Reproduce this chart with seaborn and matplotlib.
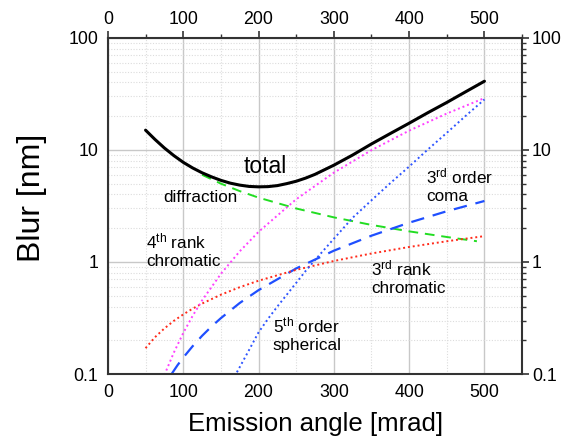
import numpy as np
import pandas as pd
import matplotlib
matplotlib.use("Agg")
import matplotlib.pyplot as plt
from matplotlib.ticker import FixedLocator, LogLocator, NullFormatter, FixedFormatter
import seaborn as sns

# Emission angle samples [mrad] for the total blur
angle = [50, 62.5, 75, 87.5, 100, 112.5, 125, 137.5, 150, 162.5, 175, 187.5,
         200, 212.5, 225, 237.5, 250, 262.5, 275, 300, 325, 350, 375, 400,
         425, 450, 475, 500]

# Blur contributions [nm]
total = [15.0, 12.4, 10.4, 8.9, 7.75, 6.9, 6.25, 5.75, 5.35, 5.05, 4.85, 4.72,
         4.68, 4.7, 4.8, 5.0, 5.25, 5.6, 6.05, 7.3, 9.0, 11.3, 14.0, 17.3,
         21.5, 26.5, 33.0, 41.0]

diff_angle = [125, 150, 175, 200, 250, 300, 350, 400, 450, 490]
diffraction = [6.0, 5.0, 4.29, 3.75, 3.0, 2.5, 2.14, 1.875, 1.67, 1.53]

coma_angle = [85, 92.5, 100, 112.5, 125, 137.5, 150, 175, 200, 250, 300, 350,
              400, 450, 500]
coma3 = [0.101, 0.12, 0.14, 0.177, 0.219, 0.265, 0.315, 0.43, 0.56, 0.875,
         1.26, 1.715, 2.24, 2.835, 3.5]

chrom3_angle = [50, 62.5, 75, 87.5, 100, 112.5, 125, 150, 175, 200, 250, 300,
                350, 400, 450, 500]
chrom3 = [0.17, 0.213, 0.255, 0.298, 0.34, 0.383, 0.425, 0.51, 0.595, 0.68,
          0.85, 1.02, 1.19, 1.36, 1.53, 1.70]

chrom4_angle = [75, 87.5, 100, 112.5, 125, 150, 175, 200, 250, 300, 350, 400, 450, 500]
chrom4 = [0.098, 0.155, 0.232, 0.33, 0.453, 0.783, 1.243, 1.856, 3.625, 6.26,
          9.95, 14.85, 21.1, 29.0]

sph_angle = [165, 175, 187.5, 200, 212.5, 225, 237.5, 250, 262.5, 275, 300,
             325, 350, 375, 400, 425, 450, 475, 500]
sph5 = [0.087, 0.115, 0.164, 0.235, 0.31, 0.40, 0.51, 0.65, 0.83, 1.04, 1.61,
        2.48, 3.55, 5.05, 7.1, 10.1, 14.2, 20.1, 28.2]

x_ticks = [0, 100, 200, 300, 400, 500]
y_ticks = [0.1, 1, 10, 100]
y_tick_labels = ["0.1", "1", "10", "100"]

sns.set_theme(style="white")
plt.rcParams["font.family"] = ["Liberation Sans", "DejaVu Sans"]
plt.rcParams["mathtext.fontset"] = "custom"
plt.rcParams["mathtext.rm"] = "Liberation Sans"
plt.rcParams["mathtext.it"] = "Liberation Sans"
plt.rcParams["text.color"] = "black"
plt.rcParams["axes.labelcolor"] = "black"
plt.rcParams["xtick.color"] = "black"
plt.rcParams["ytick.color"] = "black"

fig = plt.figure(figsize=(5.62, 4.40), dpi=100)
ax = fig.add_axes([0.192, 0.15, 0.737, 0.764])

ax.set_yscale("log")
ax.set_xlim(0, 550)
ax.set_ylim(0.1, 100)

# grid
ax.xaxis.set_major_locator(FixedLocator(x_ticks))
ax.xaxis.set_minor_locator(FixedLocator([50, 150, 250, 350, 450, 550]))
ax.yaxis.set_major_locator(FixedLocator(y_ticks))
ax.yaxis.set_major_formatter(FixedFormatter(y_tick_labels))
ax.yaxis.set_minor_locator(LogLocator(base=10, subs=np.arange(2, 10)))
ax.yaxis.set_minor_formatter(NullFormatter())
ax.grid(which="major", color="#c8c8c8", lw=1.0, ls="-")
ax.grid(which="minor", color="#dcdcdc", lw=0.8, ls=(0, (1, 1.5)))
ax.set_axisbelow(True)

lw = 1.4
sns.lineplot(x=diff_angle, y=diffraction, ax=ax, color="#22dd22", lw=lw,
             linestyle=(0, (5, 3.5)))
sns.lineplot(x=coma_angle, y=coma3, ax=ax, color="#1f4fff", lw=lw + 0.2,
             linestyle=(0, (6, 4)))
sns.lineplot(x=chrom3_angle, y=chrom3, ax=ax, color="#ff2a1a", lw=lw,
             linestyle=(0, (1, 1.5)))
sns.lineplot(x=chrom4_angle, y=chrom4, ax=ax, color="#ff40ff", lw=lw,
             linestyle=(0, (1, 1.5)))
sns.lineplot(x=sph_angle, y=sph5, ax=ax, color="#2f55ff", lw=lw,
             linestyle=(0, (1, 1.5)))
sns.lineplot(x=angle, y=total, ax=ax, color="black", lw=2.2)

# ticks on all four sides
ax.tick_params(which="both", direction="out", top=True, right=True,
               labeltop=True, labelright=True, color="#333333")
ax.tick_params(which="major", length=5, width=1.2, labelsize=12.8, pad=2)
ax.tick_params(which="minor", length=3, width=1.0)
for s in ax.spines.values():
    s.set_color("#333333")
    s.set_linewidth(1.5)

ax.set_xlabel("Emission angle [mrad]", fontsize=18.5)
ax.set_ylabel("Blur [nm]", fontsize=23)
ax.xaxis.set_label_coords(0.502, -0.112)
ax.yaxis.set_label_coords(-0.148, 0.525)

# curve labels
lab = 12.3
ax.text(180, 7.05, "total", fontsize=16.5, va="center", ha="left")
ax.text(73, 3.73, "diffraction", fontsize=lab, va="center", ha="left")
ax.text(51, 1.28, "4$^{\\rm th}$ rank\nchromatic", fontsize=lab,
        va="center", ha="left", linespacing=1.2)
ax.text(423, 4.87, "3$^{\\rm rd}$ order\ncoma", fontsize=lab,
        va="center", ha="left", linespacing=1.2)
ax.text(350, 0.735, "3$^{\\rm rd}$ rank\nchromatic", fontsize=lab,
        va="center", ha="left", linespacing=1.2)
ax.text(219, 0.227, "5$^{\\rm th}$ order\nspherical", fontsize=lab,
        va="center", ha="left", linespacing=1.2)

fig.savefig("out.png", dpi=100)
